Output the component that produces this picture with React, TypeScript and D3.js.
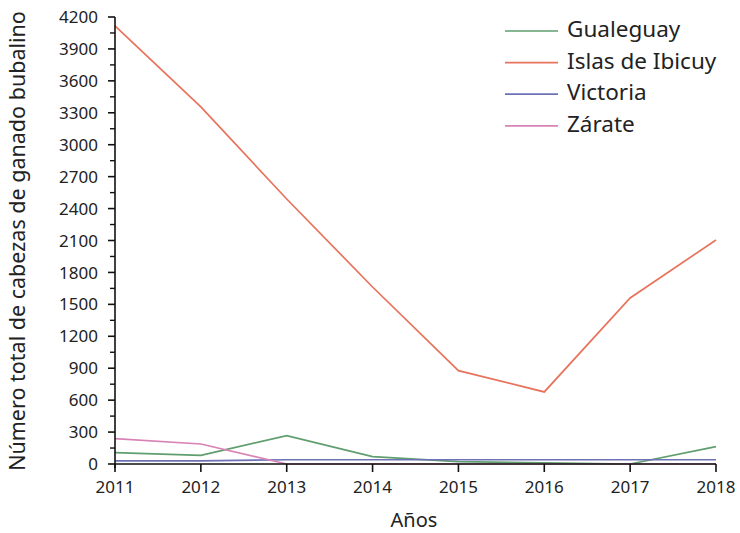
import React from "react";
import * as d3 from "d3";

const years = [2011, 2012, 2013, 2014, 2015, 2016, 2017, 2018];
const gualeguay = [106, 82, 266, 69, 22, 10, 0, 163];
const ibicuy = [4116, 3355, 2490, 1663, 877, 677, 1560, 2105];
const victoria = [30, 30, 40, 40, 40, 40, 40, 40];
const zarate = [238, 188, 0, 0, 0, 0, 0, 0];
const yTicks = [0, 300, 600, 900, 1200, 1500, 1800, 2100, 2400, 2700, 3000, 3300, 3600, 3900, 4200];

const seriesNames = ["Gualeguay", "Islas de Ibicuy", "Victoria", "Zárate"];
const seriesData = [gualeguay, ibicuy, victoria, zarate];
const colors = ["#5f9e6e", "#e8735c", "#6e72b5", "#d883b5"];

const W = 740;
const H = 533;
const left = 115;
const right = 716;
const top = 17;
const bottom = 464;
const font = "'Noto Sans', sans-serif";

export default function App() {
  const x = d3.scaleLinear().domain([2011, 2018]).range([left, right]);
  const y = d3.scaleLinear().domain([0, 4200]).range([bottom, top]);
  const line = d3
    .line<number>()
    .x((_, i) => x(years[i]))
    .y((d) => y(d));
  const minor = d3.range(150, 4200, 300);

  return (
    <svg width={W} height={H} style={{ position: "absolute", left: 0, top: 0 }}>
      <rect width={W} height={H} fill="#fff" />
      {seriesData.map((s, i) => (
        <path key={i} d={line(s) || ""} fill="none" stroke={colors[i]} strokeWidth={1.7} />
      ))}
      {/* y axis */}
      <line x1={left} x2={left} y1={top} y2={bottom + 4} stroke="#111" strokeWidth={1.6} />
      {yTicks.map((t) => (
        <g key={t}>
          <line x1={left - 7} x2={left} y1={y(t)} y2={y(t)} stroke="#111" strokeWidth={1.6} />
          <text x={left - 17} y={y(t)} dy="0.36em" textAnchor="end" fontFamily={font} fontSize={17} fill="#222">
            {t}
          </text>
        </g>
      ))}
      {minor.map((t) => (
        <line key={t} x1={left - 5} x2={left} y1={y(t)} y2={y(t)} stroke="#111" strokeWidth={1.4} />
      ))}
      {/* x axis */}
      <line x1={left} x2={right} y1={bottom} y2={bottom} stroke="#111" strokeWidth={1.6} />
      {years.map((yr) => (
        <g key={yr}>
          <line x1={x(yr)} x2={x(yr)} y1={bottom} y2={bottom + 8} stroke="#111" strokeWidth={1.6} />
          <text x={x(yr)} y={bottom + 29} textAnchor="middle" fontFamily={font} fontSize={17} fill="#222">
            {yr}
          </text>
        </g>
      ))}
      <text x={414} y={527} textAnchor="middle" fontFamily={font} fontSize={20} fill="#222">
        Años
      </text>
      <text
        transform={`translate(25, ${241}) rotate(-90)`}
        textAnchor="middle"
        fontFamily={font}
        fontSize={21.5}
        fill="#222"
      >
        Número total de cabezas de ganado bubalino
      </text>
      {/* legend */}
      {seriesNames.map((n, i) => (
        <g key={n} transform={`translate(505, ${37 + i * 31.6})`}>
          <line x1={0} x2={53} y1={-6} y2={-6} stroke={colors[i]} strokeWidth={1.7} />
          <text x={62} y={0} fontFamily={font} fontSize={22.5} fill="#222">
            {n}
          </text>
        </g>
      ))}
    </svg>
  );
}
